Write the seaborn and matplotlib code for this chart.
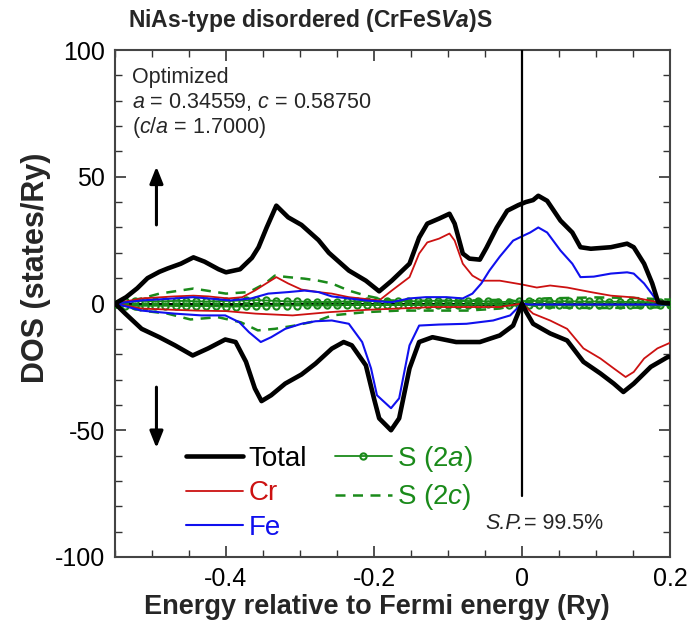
import numpy as np
import pandas as pd
import matplotlib
matplotlib.use("Agg")
import matplotlib.pyplot as plt
import seaborn as sns

# ---------------- data ----------------
e_total_up = [-0.55, -0.535, -0.52, -0.506, -0.49, -0.479, -0.461, -0.444, -0.429, -0.41, -0.40,
              -0.381, -0.365, -0.356, -0.345, -0.332, -0.316, -0.298, -0.275, -0.261, -0.234,
              -0.211, -0.193, -0.176, -0.152, -0.139, -0.128, -0.112, -0.098, -0.091, -0.080,
              -0.071, -0.057, -0.048, -0.034, -0.020, -0.005, 0.005, 0.015, 0.022, 0.034, 0.052,
              0.068, 0.079, 0.093, 0.120, 0.142, 0.151, 0.165, 0.176, 0.184, 0.2]
dos_total_up = [0, 2.5, 6, 10, 12.5, 13.8, 15.7, 18.2, 16.5, 13.5, 12.3,
                13.5, 18, 22.2, 30, 38.6, 34, 31, 25, 20, 13,
                9, 4.8, 9, 15.7, 26, 31.5, 33.5, 35.4, 31.5, 19.7,
                17.7, 17.3, 22, 30, 36.6, 38.8, 40, 40.8, 42.5, 40.5, 32.7,
                28, 22.2, 21.6, 22.2, 23.6, 22.2, 15.7, 7.9, 0.5, 0]

e_total_dn = [-0.55, -0.536, -0.514, -0.49, -0.469, -0.445, -0.424, -0.401, -0.387, -0.373, -0.361,
              -0.352, -0.339, -0.320, -0.298, -0.279, -0.257, -0.241, -0.230, -0.211, -0.200,
              -0.193, -0.177, -0.166, -0.152, -0.139, -0.121, -0.089, -0.057, -0.030, -0.012,
              0.0, 0.005, 0.015, 0.038, 0.061, 0.083, 0.106, 0.124, 0.137, 0.151, 0.174, 0.197, 0.2]
dos_total_dn = [0, -4, -10, -13.3, -16.5, -20.5, -17.7, -14.2, -15.2, -23, -33.5,
                -38.5, -36.2, -31.6, -28, -23.7, -17.8, -15.2, -16.5, -24.4, -37.5,
                -45.3, -50, -45.3, -25.6, -15.2, -13.3, -15.2, -15.2, -12.6, -8.7,
                0, -3, -8, -11.8, -14.6, -23, -27.6, -31.6, -34.9, -31.6, -25, -21.1, -21]

e_cr_up = [-0.55, -0.514, -0.47, -0.444, -0.424, -0.397, -0.378, -0.361, -0.343, -0.332, -0.316,
           -0.298, -0.275, -0.257, -0.234, -0.193, -0.176, -0.152, -0.139, -0.128, -0.112,
           -0.098, -0.091, -0.080, -0.067, -0.055, -0.030, 0.0, 0.020, 0.038, 0.061, 0.093,
           0.120, 0.151, 0.184, 0.2]
dos_cr_up = [0, 2, 2.8, 3.1, 2.8, 2, 2.5, 5.1, 8.4, 10.4, 7.9,
             5.5, 4.5, 3.9, 2.5, 1.2, 5.1, 10.4, 19.7, 24.1, 25.6,
             27.6, 24.8, 15.7, 11, 9, 9, 7.5, 6.3, 7.1, 6.3, 4.5,
             3.1, 2.4, 0.5, 0]

e_cr_dn = [-0.55, -0.514, -0.47, -0.44, -0.40, -0.36, -0.31, -0.26, -0.21, -0.12, -0.03, 0.0,
           0.015, 0.038, 0.061, 0.083, 0.106, 0.124, 0.140, 0.151, 0.165, 0.183, 0.2]
dos_cr_dn = [0, -2, -2.5, -2.8, -3, -4, -4.7, -3.4, -2.5, -1.4, -1.4, 0,
             -4, -6.7, -10, -17.7, -21.7, -25.6, -29, -27, -21.7, -17.7, -15.5]

e_fe_up = [-0.55, -0.514, -0.47, -0.444, -0.424, -0.394, -0.366, -0.343, -0.316, -0.294, -0.275,
           -0.257, -0.211, -0.176, -0.152, -0.130, -0.102, -0.080, -0.067, -0.055, -0.044,
           -0.030, -0.012, 0.0, 0.011, 0.022, 0.034, 0.052, 0.068, 0.079, 0.097, 0.120,
           0.142, 0.151, 0.165, 0.184, 0.2]
dos_fe_up = [0, 1.2, 2, 2.5, 2, 1.2, 2, 3.9, 4.5, 5.1, 4.5,
             2.8, 1.2, 0.5, 2, 2.5, 2.5, 2, 3.9, 7.9, 13,
             18.5, 24.8, 26.5, 28, 30, 28, 20.9, 15.7, 10.4, 10.6, 11.8,
             12.3, 11.8, 7.9, 0.5, 0]

e_fe_dn = [-0.55, -0.514, -0.469, -0.433, -0.401, -0.382, -0.369, -0.353, -0.339, -0.320, -0.298,
           -0.279, -0.257, -0.234, -0.216, -0.204, -0.196, -0.177, -0.166, -0.152, -0.139,
           -0.112, -0.075, -0.039, -0.016, 0.0, 0.01, 0.2]
dos_fe_dn = [0, -2.8, -4, -4.7, -4.7, -7.4, -11.3, -15.2, -13.3, -10, -8,
             -7, -6.7, -8, -15.2, -25.6, -36.2, -41.3, -37.4, -16.5, -8.7,
             -8.3, -8, -6.7, -4.7, 0, -0.4, -0.4]

e_s2c_up = [-0.55, -0.514, -0.49, -0.444, -0.40, -0.369, -0.347, -0.334, -0.316, -0.294, -0.275,
            -0.257, -0.234, -0.211, -0.193, -0.18, -0.10, -0.02, 0.0, 0.03, 0.1, 0.15, 0.2]
dos_s2c_up = [0, 2, 3.9, 5.9, 3.9, 4.5, 7.9, 11, 10.4, 9.8, 9,
              7.9, 5.1, 3.1, 2, 1.2, 1.0, 1.5, 0.5, 2, 2.4, 2.2, 1.5]

e_s2c_dn = [-0.55, -0.514, -0.479, -0.448, -0.411, -0.380, -0.357, -0.334, -0.307, -0.275, -0.257,
            -0.211, -0.166, -0.075, -0.030, 0.0, 0.03, 0.1, 0.2]
dos_s2c_dn = [0, -2.8, -4, -6.3, -5.4, -7.4, -10.6, -10, -8.7, -6.7, -4.7,
              -3.4, -2.8, -2.8, -2, 0, -1.5, -1.8, -1.5]

e_s2a = list(np.round(np.linspace(-0.55, 0.2, 56), 4))
dos_s2a_up = [0.0, 0.8, 1.0, 1.0, 0.9, 0.9, 1.0, 1.0, 0.9, 0.8,
              0.9, 1.0, 1.1, 1.2, 1.3, 1.2, 1.0, 0.9, 0.8, 0.7,
              0.6, 0.6, 0.7, 0.8, 0.9, 1.0, 1.0, 1.0, 0.9, 0.9,
              0.9, 1.0, 1.1, 1.1, 1.0, 1.0, 0.9, 0.8, 0.5, 0.7,
              0.9, 1.0, 1.0, 0.9, 0.9, 0.9, 0.8, 0.8, 0.8, 0.7,
              0.7, 0.6, 0.6, 0.5, 0.4, 0.4]
dos_s2a_dn = [0.0, -0.8, -0.9, -0.9, -0.9, -0.9, -1.0, -1.0, -1.0, -1.0,
              -1.1, -1.2, -1.2, -1.1, -1.0, -0.9, -0.9, -0.8, -0.8, -0.7,
              -0.7, -0.7, -0.6, -0.6, -0.6, -0.6, -0.6, -0.6, -0.6, -0.6,
              -0.6, -0.6, -0.6, -0.6, -0.6, -0.5, -0.4, -0.3, -0.2, -0.5,
              -0.6, -0.7, -0.7, -0.7, -0.7, -0.7, -0.7, -0.7, -0.7, -0.7,
              -0.6, -0.6, -0.6, -0.6, -0.6, -0.6]

legend_labels = ["Total", "Cr", "Fe", "S (2$\\mathit{a}$)", "S (2$\\mathit{c}$)"]
x_ticks = [-0.4, -0.2, 0, 0.2]
x_tick_labels = ["-0.4", "-0.2", "0", "0.2"]
y_ticks = [100, 50, 0, -50, -100]
y_tick_labels = ["100", "50", "0", "-50", "-100"]

# ---------------- style ----------------
sns.set_style("ticks")
plt.rcParams["font.family"] = ["Liberation Sans", "DejaVu Sans"]
plt.rcParams["mathtext.fontset"] = "custom"
plt.rcParams["mathtext.rm"] = "Liberation Sans"
plt.rcParams["mathtext.it"] = "Liberation Sans:italic"
plt.rcParams["mathtext.bf"] = "Liberation Sans:bold"
plt.rcParams["mathtext.bfit"] = "Liberation Sans:italic:bold"

BLACK = "#000000"
RED = "#cc1111"
BLUE = "#1010ee"
GREEN = "#1a8a1a"

fig = plt.figure(figsize=(6.89, 6.35), dpi=100)
ax = fig.add_axes([115 / 689, 1 - 557 / 635, 555 / 689, 507 / 635])

def line(x, y, **kw):
    df = pd.DataFrame({"E": x, "DOS": y})
    sns.lineplot(data=df, x="E", y="DOS", ax=ax, sort=False, estimator=None, **kw)

ax.axhline(0, color=BLACK, lw=2.2, zorder=2)

line(e_s2c_up, dos_s2c_up, color=GREEN, lw=1.8, linestyle=(0, (4, 3)), zorder=3, label=legend_labels[4])
line(e_s2c_dn, dos_s2c_dn, color=GREEN, lw=1.8, linestyle=(0, (4, 3)), zorder=3)
line(e_s2a, dos_s2a_up, color=GREEN, lw=1.3, marker="o", markersize=4.5, markerfacecolor="none",
     markeredgecolor=GREEN, markeredgewidth=1.5, zorder=4, label=legend_labels[3])
line(e_s2a, dos_s2a_dn, color=GREEN, lw=1.3, marker="o", markersize=4.5, markerfacecolor="none",
     markeredgecolor=GREEN, markeredgewidth=1.5, zorder=4)
line(e_cr_up, dos_cr_up, color=RED, lw=1.3, zorder=5, label=legend_labels[1])
line(e_cr_dn, dos_cr_dn, color=RED, lw=1.3, zorder=5)
line(e_fe_up, dos_fe_up, color=BLUE, lw=1.5, zorder=6, label=legend_labels[2])
line(e_fe_dn, dos_fe_dn, color=BLUE, lw=1.5, zorder=6)
line(e_total_up, dos_total_up, color=BLACK, lw=3.3, zorder=7, label=legend_labels[0])
line(e_total_dn, dos_total_dn, color=BLACK, lw=3.3, zorder=7)

ax.axvline(0, ymin=(100 - 76) / 200, ymax=1, color=BLACK, lw=1.6, zorder=8)

ax.set_xlim(-0.55, 0.2)
ax.set_ylim(-100, 100)
ax.set_xticks(x_ticks)
ax.set_xticklabels(x_tick_labels)
ax.set_yticks(y_ticks)
ax.set_yticklabels(y_tick_labels)
ax.set_xticks(np.arange(-0.55, 0.2001, 0.05), minor=True)
ax.set_yticks(np.arange(-100, 100.1, 10), minor=True)
ax.tick_params(which="both", direction="in", top=True, right=True, colors="#333333",
               labelcolor=BLACK, labelsize=18)
ax.tick_params(which="major", length=8, width=1.2, pad=7)
ax.tick_params(which="minor", length=5, width=1.0)
for s in ax.spines.values():
    s.set_linewidth(1.5)
    s.set_color("#444444")

ax.set_xlabel("Energy relative to Fermi energy (Ry)", fontsize=19.5, fontweight="bold")
ax.xaxis.set_label_coords((377 - 115) / 555, -(607 - 557) / 507)
ax.xaxis.label.set_va("center")
ax.set_ylabel("DOS (states/Ry)", fontsize=22, fontweight="bold")
ax.yaxis.set_label_coords(-(115 - 36) / 555, (557 - 268) / 507)
ax.yaxis.label.set_va("center")

fig.text(128 / 689, 1 - 20 / 635, "NiAs-type disordered (CrFeS$\\mathbfit{Va}$)S",
         fontsize=16.5, fontweight="bold", ha="left", va="center")

fig.text(132 / 689, 1 - 77 / 635, "Optimized", fontsize=15.5, ha="left", va="center")
fig.text(132 / 689, 1 - 102 / 635, "$a$ = 0.34559, $c$ = 0.58750", fontsize=15.5, ha="left", va="center")
fig.text(132 / 689, 1 - 128 / 635, "($c/a$ = 1.7000)", fontsize=15.5, ha="left", va="center")

sp_y = 1 - 529 / 635
sp = fig.text(485 / 689, sp_y, "S.P.", fontsize=15.5, fontstyle="italic", ha="left", va="baseline")
fig.canvas.draw()
sp_x1 = sp.get_window_extent().x1 / fig.bbox.width
fig.text(sp_x1 + 1 / 689, sp_y, "= 99.5%", fontsize=15.5, ha="left", va="baseline")

arrow_kw = dict(arrowstyle="-|>,head_length=1.0,head_width=0.4", lw=2.2, color=BLACK,
                shrinkA=0, shrinkB=0)
ax.annotate("", xy=(-0.494, 54), xytext=(-0.494, 31), arrowprops=arrow_kw)
ax.annotate("", xy=(-0.494, -57), xytext=(-0.494, -33), arrowprops=arrow_kw)

h, l = ax.get_legend_handles_labels()
hd = dict(zip(l, h))
handles = [hd[k] for k in legend_labels]
leg = ax.legend(handles, legend_labels, ncol=2, loc="upper left",
                bbox_to_anchor=((186 - 115) / 555, (557 - 444) / 507),
                frameon=False, fontsize=20, handlelength=2.05, handletextpad=0.2,
                columnspacing=1.0, labelspacing=0.3, borderaxespad=0, borderpad=0)
for t, c in zip(leg.get_texts(), [BLACK, RED, BLUE, GREEN, GREEN]):
    t.set_color(c)

fig.savefig("out.png", dpi=100)
